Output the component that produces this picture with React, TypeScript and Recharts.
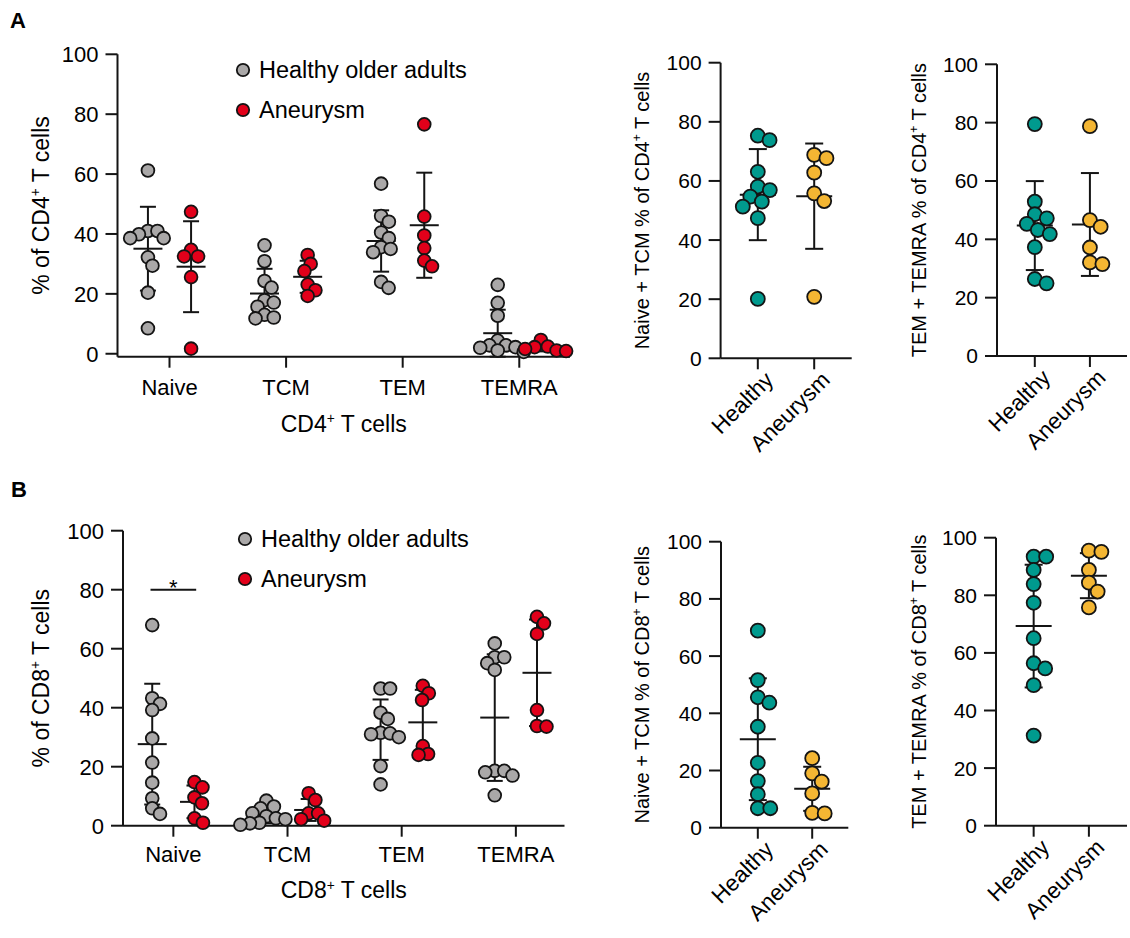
import React from 'react';
import { ScatterChart, Scatter, XAxis, YAxis, ErrorBar, Legend, ReferenceLine } from 'recharts';

const FONT = '"Liberation Sans", Arial, Helvetica, sans-serif';
const INK = '#141414';
const GRAY = '#aaa8a8';
const RED = '#e2001a';
const TEAL = '#009a8e';
const ORANGE = '#f4b633';

const subsets = ['Naive', 'TCM', 'TEM', 'TEMRA'];
const groupNames = ['Healthy', 'Aneurysm'];
const legendLabels = ['Healthy older adults', 'Aneurysm'];
const yTicks = [0, 20, 40, 60, 80, 100];

// CD4+ subsets, % of CD4+ T cells
const cd4HealthyNaive = [61.2, 41, 41, 39.9, 38.6, 38.6, 32.2, 29.4, 20.4, 8.5];
const cd4HealthyTcm = [36.2, 30.9, 24.3, 22.1, 17.9, 17.1, 15.7, 13.0, 12.1, 11.8];
const cd4HealthyTem = [56.8, 46.0, 44.1, 40.5, 38.6, 35.6, 35.0, 33.9, 24.0, 22.0];
const cd4HealthyTemra = [23.0, 17.0, 12.7, 4.4, 2.8, 2.8, 2.2, 2.0, 1.1, 0.6];
const cd4AneurysmNaive = [47.4, 34.7, 32.5, 32.5, 25.6, 1.7];
const cd4AneurysmTcm = [33.0, 30.0, 27.6, 23.1, 21.2, 19.3];
const cd4AneurysmTem = [76.6, 45.8, 39.5, 35.3, 31.1, 29.2];
const cd4AneurysmTemra = [4.6, 2.4, 2.2, 1.6, 1.1, 0.9];

// CD8+ subsets, % of CD8+ T cells
const cd8HealthyNaive = [68.0, 43.2, 41.3, 39.2, 29.6, 21.4, 14.6, 9.3, 5.9, 4.0];
const cd8HealthyTcm = [8.5, 6.5, 5.9, 4.2, 3.2, 2.5, 2.2, 1.0, 0.8, 0.3];
const cd8HealthyTem = [46.5, 46.5, 38.3, 36.2, 31.5, 31.3, 31.0, 30.0, 20.2, 14.0];
const cd8HealthyTemra = [61.8, 57.1, 57.1, 55.1, 52.8, 18.6, 18.6, 18.1, 17.0, 10.3];
const cd8AneurysmNaive = [14.8, 13.0, 9.6, 7.6, 2.5, 1.0];
const cd8AneurysmTcm = [11.0, 8.7, 4.2, 4.2, 2.2, 1.7];
const cd8AneurysmTem = [47.4, 44.9, 42.6, 27.0, 24.3, 24.0];
const cd8AneurysmTemra = [70.8, 68.6, 65.0, 39.2, 33.8, 33.6];

// combined subsets
const cd4NaiveTcmHealthy = [75.3, 73.8, 63.1, 58.1, 56.9, 54.7, 53.0, 51.3, 47.4, 20.1];
const cd4NaiveTcmAneurysm = [68.8, 67.7, 62.8, 55.8, 53.2, 20.8];
const cd4TemTemraHealthy = [79.5, 52.9, 48.6, 47.2, 45.3, 43.2, 41.8, 37.3, 26.4, 24.9];
const cd4TemTemraAneurysm = [78.8, 46.6, 44.3, 37.2, 32.1, 31.5];
const cd8NaiveTcmHealthy = [68.9, 51.6, 45.6, 43.7, 35.3, 22.7, 16.3, 11.7, 6.8, 6.8];
const cd8NaiveTcmAneurysm = [24.3, 19.0, 16.1, 12.0, 5.2, 5.0];
const cd8TemTemraHealthy = [93.4, 93.4, 88.8, 83.9, 77.4, 65.1, 56.4, 54.6, 48.8, 31.3];
const cd8TemTemraAneurysm = [95.5, 95.1, 88.8, 84.4, 81.3, 75.8];

const mean = (v: number[]) => v.reduce((a, b) => a + b, 0) / v.length;
const sdev = (v: number[]) => {
  const m = mean(v);
  return Math.sqrt(v.reduce((a, b) => a + (b - m) ** 2, 0) / (v.length - 1));
};

// simple beeswarm: returns x offsets in axis units
function swarm(values: number[], pxX: number, pxY: number, gap: number): number[] {
  const order = values.map((_, i) => i).sort((a, b) => values[b] - values[a]);
  const placed: { x: number; y: number }[] = [];
  const out = values.map(() => 0);
  for (const i of order) {
    const y = values[i] * pxY;
    let best = 0;
    for (let k = 0; k < 400; k++) {
      const cands = k === 0 ? [0] : [k * 0.25, -k * 0.25];
      const ok = cands.find((c) => placed.every((p) => Math.hypot(p.x - c, p.y - y) >= gap));
      if (ok !== undefined) {
        best = ok;
        break;
      }
    }
    placed.push({ x: best, y });
    out[i] = best / pxX;
  }
  return out;
}

type Parts = { pre: string; sup: string; post: string };

const TitleText = ({ x, y, size, parts, rotate }: { x: number; y: number; size: number; parts: Parts; rotate?: boolean }) => (
  <text
    x={x}
    y={y}
    transform={rotate ? `rotate(-90 ${x} ${y})` : undefined}
    textAnchor="middle"
    fontFamily={FONT}
    fontSize={size}
    fill="#000"
  >
    {parts.pre}
    <tspan fontSize={size * 0.6} dy={-size * 0.38}>
      {parts.sup}
    </tspan>
    <tspan dy={size * 0.38}>{parts.post}</tspan>
  </text>
);

type Series = { center: number; values: number[]; fill: string };

interface PanelProps {
  left: number;
  top: number;
  width: number;
  height: number;
  plot: { l: number; t: number; r: number; b: number };
  xDomain: [number, number];
  xLabels: string[];
  series: Series[];
  r: number;
  gap: number;
  meanHalf: number;
  capHalf: number;
  tickFont: number;
  yTitle: Parts;
  yTitleX: number;
  yTitleSize: number;
  xTitle?: Parts;
  xTitleY?: number;
  rotated?: boolean;
  tickMargin: number;
  legend?: { left: number; top: number };
  star?: boolean;
}

const legendColors = [GRAY, RED];

function DotPanel(p: PanelProps) {
  const yAxisW = 70;
  const xAxisH = 40;
  const pxX = (p.plot.r - p.plot.l) / (p.xDomain[1] - p.xDomain[0]);
  const pxY = (p.plot.b - p.plot.t) / 100;
  const margin = {
    top: p.plot.t,
    left: p.plot.l - yAxisW,
    right: p.width - p.plot.r,
    bottom: p.height - p.plot.b - xAxisH,
  };
  const summaries = p.series.map((s) => ({ x: s.center, y: mean(s.values), sd: sdev(s.values) }));
  const dots = p.series.map((s) => {
    const off = swarm(s.values, pxX, pxY, p.gap);
    return s.values.map((v, i) => ({ x: s.center + off[i], y: v }));
  });
  const xTicks = p.xLabels.map((_, i) => i + 1);
  const axisStyle = { stroke: INK, strokeWidth: 2 };
  const tickStyle = { fill: '#000', fontSize: p.tickFont, fontFamily: FONT };

  const rotTick = (tp: any) => {
    const ax = tp.x + 17;
    const ay = tp.y + 9;
    return (
      <text x={ax} y={ay} transform={`rotate(-45 ${ax} ${ay})`} textAnchor="end" fontFamily={FONT} fontSize={22.5} fill="#000">
        {p.xLabels[Math.round(tp.payload.value) - 1]}
      </text>
    );
  };

  return (
    <div style={{ position: 'absolute', left: p.left, top: p.top }}>
      <ScatterChart width={p.width} height={p.height} margin={margin}>
        <XAxis
          type="number"
          dataKey="x"
          domain={p.xDomain}
          ticks={xTicks}
          interval={0}
          height={xAxisH}
          tickSize={11}
          tickMargin={p.tickMargin}
          axisLine={axisStyle}
          tickLine={axisStyle}
          tickFormatter={(v: number) => p.xLabels[Math.round(v) - 1]}
          tick={p.rotated ? rotTick : tickStyle}
          label={
            p.xTitle
              ? (lp: any) => (
                  <TitleText x={lp.viewBox.x + lp.viewBox.width / 2} y={p.xTitleY as number} size={23} parts={p.xTitle as Parts} />
                )
              : undefined
          }
        />
        <YAxis
          type="number"
          dataKey="y"
          domain={[0, 100]}
          ticks={yTicks}
          interval={0}
          width={yAxisW}
          tickSize={12}
          tickMargin={7}
          axisLine={axisStyle}
          tickLine={axisStyle}
          tick={tickStyle}
          label={(lp: any) => (
            <TitleText
              x={p.yTitleX}
              y={lp.viewBox.y + lp.viewBox.height / 2}
              size={p.yTitleSize}
              parts={p.yTitle}
              rotate
            />
          )}
        />
        {summaries.map((m, i) => (
          <Scatter
            key={'m' + i}
            data={[m]}
            isAnimationActive={false}
            shape={(sp: any) => (
              <line x1={sp.cx - p.meanHalf} x2={sp.cx + p.meanHalf} y1={sp.cy} y2={sp.cy} stroke={INK} strokeWidth={2} />
            )}
          >
            <ErrorBar dataKey="sd" direction="y" width={p.capHalf} stroke={INK} strokeWidth={2} isAnimationActive={false} />
          </Scatter>
        ))}
        {dots.map((d, i) => (
          <Scatter
            key={'d' + i}
            data={d}
            isAnimationActive={false}
            shape={(sp: any) => <circle cx={sp.cx} cy={sp.cy} r={p.r} fill={p.series[i].fill} stroke={INK} strokeWidth={1.8} />}
          />
        ))}
        {p.star && (
          <ReferenceLine
            segment={[
              { x: 0.8, y: 80 },
              { x: 1.2, y: 80 },
            ]}
            stroke={INK}
            strokeWidth={2}
            label={(lp: any) => (
              <text x={lp.viewBox.x + lp.viewBox.width / 2} y={lp.viewBox.y + 5} textAnchor="middle" fontFamily={FONT} fontSize={22} fill="#000">
                *
              </text>
            )}
          />
        )}
        {p.legend && (
          <Legend
            layout="vertical"
            align="center"
            verticalAlign="middle"
            wrapperStyle={{ left: p.legend.left, top: p.legend.top, width: 320 }}
            content={() => (
              <div style={{ fontFamily: FONT, fontSize: 23.5, color: '#000' }}>
                {legendLabels.map((lab, i) => (
                  <div key={lab} style={{ display: 'flex', alignItems: 'center', height: 40 }}>
                    <svg width={16} height={16}>
                      <circle cx={8} cy={8} r={6.2} fill={legendColors[i]} stroke={INK} strokeWidth={1.8} />
                    </svg>
                    <span style={{ marginLeft: 8 }}>{lab}</span>
                  </div>
                ))}
              </div>
            )}
          />
        )}
      </ScatterChart>
    </div>
  );
}

const OFF = 0.185;

const cd4Series: Series[] = [
  { center: 1 - OFF, values: cd4HealthyNaive, fill: GRAY },
  { center: 1 + OFF, values: cd4AneurysmNaive, fill: RED },
  { center: 2 - OFF, values: cd4HealthyTcm, fill: GRAY },
  { center: 2 + OFF, values: cd4AneurysmTcm, fill: RED },
  { center: 3 - OFF, values: cd4HealthyTem, fill: GRAY },
  { center: 3 + OFF, values: cd4AneurysmTem, fill: RED },
  { center: 4 - OFF, values: cd4HealthyTemra, fill: GRAY },
  { center: 4 + OFF, values: cd4AneurysmTemra, fill: RED },
];

const cd8Series: Series[] = [
  { center: 1 - OFF, values: cd8HealthyNaive, fill: GRAY },
  { center: 1 + OFF, values: cd8AneurysmNaive, fill: RED },
  { center: 2 - OFF, values: cd8HealthyTcm, fill: GRAY },
  { center: 2 + OFF, values: cd8AneurysmTcm, fill: RED },
  { center: 3 - OFF, values: cd8HealthyTem, fill: GRAY },
  { center: 3 + OFF, values: cd8AneurysmTem, fill: RED },
  { center: 4 - OFF, values: cd8HealthyTemra, fill: GRAY },
  { center: 4 + OFF, values: cd8AneurysmTemra, fill: RED },
];

const pair = (h: number[], a: number[]): Series[] => [
  { center: 1, values: h, fill: TEAL },
  { center: 2, values: a, fill: ORANGE },
];

const big = { r: 6.4, gap: 9.5, meanHalf: 14.5, capHalf: 8, yTitleSize: 23, tickFont: 22 };
const small = { r: 7, gap: 12.5, meanHalf: 18, capHalf: 9, yTitleSize: 20, tickFont: 21, rotated: true, tickMargin: 3 };

export default function App() {
  return (
    <div style={{ position: 'absolute', left: 0, top: 0, width: 1130, height: 938, background: '#fff', overflow: 'hidden' }}>
      <DotPanel
        {...big}
        left={0}
        top={0}
        width={600}
        height={470}
        plot={{ l: 117.5, t: 54.3, r: 570, b: 356.7 }}
        xDomain={[0.554, 4.435]}
        xLabels={subsets}
        series={cd4Series}
        yTitle={{ pre: '% of CD4', sup: '+', post: ' T cells' }}
        yTitleX={49}
        xTitle={{ pre: 'CD4', sup: '+', post: ' T cells' }}
        xTitleY={431.7}
        tickMargin={12}
        legend={{ left: 235, top: 50 }}
      />
      <DotPanel
        {...big}
        left={0}
        top={470}
        width={600}
        height={468}
        plot={{ l: 123, t: 60.7, r: 564.5, b: 355.7 }}
        xDomain={[0.559, 4.426]}
        xLabels={subsets}
        series={cd8Series}
        yTitle={{ pre: '% of CD8', sup: '+', post: ' T cells' }}
        yTitleX={49}
        xTitle={{ pre: 'CD8', sup: '+', post: ' T cells' }}
        xTitleY={428.3}
        tickMargin={10}
        legend={{ left: 237, top: 49.3 }}
        star
      />
      <DotPanel
        {...small}
        left={600}
        top={0}
        width={270}
        height={470}
        plot={{ l: 120.6, t: 62.7, r: 251.7, b: 358.3 }}
        xDomain={[0.34, 2.665]}
        xLabels={groupNames}
        series={pair(cd4NaiveTcmHealthy, cd4NaiveTcmAneurysm)}
        yTitle={{ pre: 'Naive + TCM % of CD4', sup: '+', post: ' T cells' }}
        yTitleX={49}
      />
      <DotPanel
        {...small}
        left={870}
        top={0}
        width={260}
        height={470}
        plot={{ l: 127, t: 64.3, r: 257, b: 356 }}
        xDomain={[0.314, 2.673]}
        xLabels={groupNames}
        series={pair(cd4TemTemraHealthy, cd4TemTemraAneurysm)}
        yTitle={{ pre: 'TEM + TEMRA % of CD4', sup: '+', post: ' T cells' }}
        yTitleX={56}
      />
      <DotPanel
        {...small}
        left={600}
        top={470}
        width={270}
        height={468}
        plot={{ l: 121, t: 71.7, r: 248.3, b: 357.7 }}
        xDomain={[0.323, 2.664]}
        xLabels={groupNames}
        series={pair(cd8NaiveTcmHealthy, cd8NaiveTcmAneurysm)}
        yTitle={{ pre: 'Naive + TCM % of CD8', sup: '+', post: ' T cells' }}
        yTitleX={49}
      />
      <DotPanel
        {...small}
        left={870}
        top={470}
        width={260}
        height={468}
        plot={{ l: 126, t: 67.7, r: 257, b: 355.7 }}
        xDomain={[0.318, 2.69]}
        xLabels={groupNames}
        series={pair(cd8TemTemraHealthy, cd8TemTemraAneurysm)}
        yTitle={{ pre: 'TEM + TEMRA % of CD8', sup: '+', post: ' T cells' }}
        yTitleX={56}
      />
      <svg width={1130} height={938} style={{ position: 'absolute', left: 0, top: 0, pointerEvents: 'none' }}>
        <text x={10} y={28} fontFamily={FONT} fontWeight="bold" fontSize={22} fill="#000">
          A
        </text>
        <text x={11} y={497} fontFamily={FONT} fontWeight="bold" fontSize={22} fill="#000">
          B
        </text>
      </svg>
    </div>
  );
}
